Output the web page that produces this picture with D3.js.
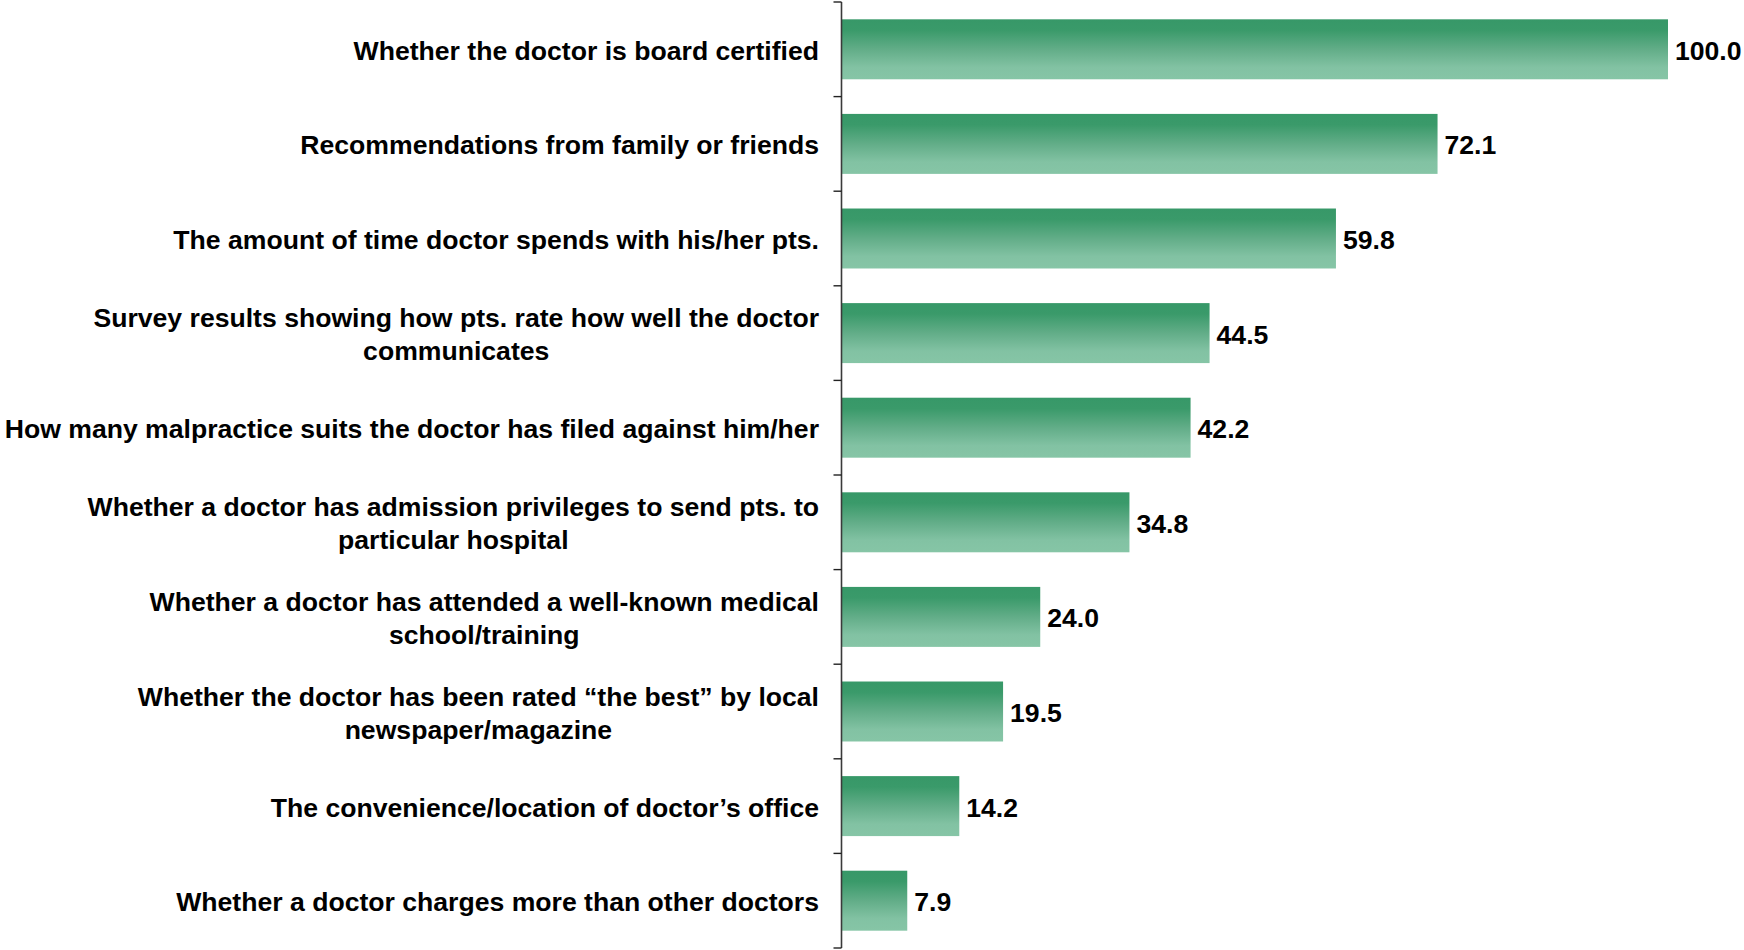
<!DOCTYPE html>
<html>
<head>
<meta charset="utf-8">
<script src="https://cdn.jsdelivr.net/npm/d3@7"></script>
<style>
  html, body { margin: 0; padding: 0; background: #ffffff; }
  svg { display: block; }
  text { font-family: "Liberation Sans", Arial, sans-serif; font-weight: bold; fill: #000; }
</style>
</head>
<body>
<svg id="chart" width="1744" height="950"></svg>
<script>
// Factors considered when choosing a doctor (index, most important = 100)
const categories = [
  ["Whether the doctor is board certified"],
  ["Recommendations from family or friends"],
  ["The amount of time doctor spends with his/her pts."],
  ["Survey results showing how pts. rate how well the doctor", "communicates"],
  ["How many malpractice suits the doctor has filed against him/her"],
  ["Whether a doctor has admission privileges to send pts. to", "particular hospital"],
  ["Whether a doctor has attended a well-known medical", "school/training"],
  ["Whether the doctor has been rated \u201cthe best\u201d by local", "newspaper/magazine"],
  ["The convenience/location of doctor\u2019s office"],
  ["Whether a doctor charges more than other doctors"]
];
const values = [100.0, 72.1, 59.8, 44.5, 42.2, 34.8, 24.0, 19.5, 14.2, 7.9];

const svg = d3.select("#chart");
const axisX = 841.5;
const labelRight = 819;
const fontSize = 26.6;
const lineGap = 33;
const textShift = 1.5;

const ids = categories.map((c, i) => i);
const y = d3.scaleBand().domain(ids).range([2, 948]).paddingInner(0.366).paddingOuter(0.183);
const x = d3.scaleLinear().domain([0, 100]).range([842, 1668]);

// Bar fill: dark green at the top fading to a pale green at the bottom
const defs = svg.append("defs");
const grad = defs.append("linearGradient").attr("id", "barFill")
  .attr("x1", 0).attr("y1", 0).attr("x2", 0).attr("y2", 1);
[[0, "#379868"], [0.18, "#3a9a6a"], [0.5, "#62ad88"], [0.8, "#82c2a3"], [1, "#86c5a6"]]
  .forEach(([o, c]) => grad.append("stop").attr("offset", o).attr("stop-color", c));

// Bars
svg.append("g").selectAll("rect").data(values).join("rect")
  .attr("x", x(0))
  .attr("y", (d, i) => y(i))
  .attr("width", d => x(d) - x(0))
  .attr("height", y.bandwidth())
  .attr("fill", "url(#barFill)");

// Category axis: vertical line with ticks between categories
const step = y.step();
const tickYs = d3.range(categories.length + 1).map(i => y(0) - y.paddingInner() * step / 2 + i * step);
const axis = svg.append("g");
axis.append("line")
  .attr("x1", axisX).attr("x2", axisX)
  .attr("y1", tickYs[0]).attr("y2", tickYs[tickYs.length - 1])
  .attr("stroke", "#3a3a3a").attr("stroke-width", 1.6);
axis.selectAll("line.tick").data(tickYs).join("line").attr("class", "tick")
  .attr("x1", axisX - 8).attr("x2", axisX)
  .attr("y1", d => d).attr("y2", d => d)
  .attr("stroke", "#222").attr("stroke-width", 1.4);

// Category labels: right-aligned block, wrapped lines centred within the block
const labels = svg.append("g");
categories.forEach((lines, i) => {
  const cy = y(i) + y.bandwidth() / 2 + textShift;
  const g = labels.append("g");
  const texts = lines.map((ln, k) => g.append("text")
    .attr("font-size", fontSize)
    .attr("dominant-baseline", "central")
    .attr("y", cy + (k - (lines.length - 1) / 2) * lineGap)
    .text(ln));
  const widths = texts.map(t => t.node().getComputedTextLength());
  const w = d3.max(widths);
  const cx = labelRight - w / 2;
  texts.forEach(t => t.attr("x", cx).attr("text-anchor", "middle"));
});

// Value labels at bar ends
svg.append("g").selectAll("text").data(values).join("text")
  .attr("x", d => x(d) + 7)
  .attr("y", (d, i) => y(i) + y.bandwidth() / 2 + textShift)
  .attr("dominant-baseline", "central")
  .attr("font-size", fontSize)
  .text(d => d.toFixed(1));
</script>
</body>
</html>
